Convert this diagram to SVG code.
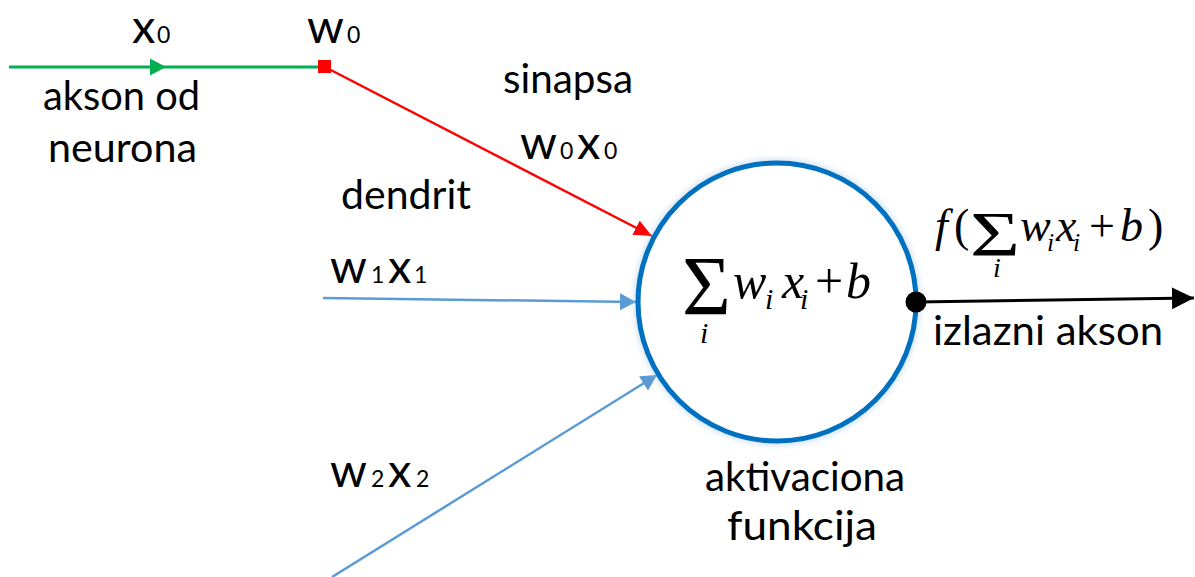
<svg xmlns="http://www.w3.org/2000/svg" width="1195" height="577" viewBox="0 0 1195 577">
  <style>
    .lbl { font-family: Lato, "Liberation Sans", sans-serif; font-size: 41px; fill: #000; }
    .var { font-family: Lato, "Liberation Sans", sans-serif; font-size: 47px; fill: #000; }
    .sub { font-size: 23px; }
    .m { font-family: "Liberation Serif", "Times New Roman", serif; fill: #000; }
    .it { font-style: italic; }
  </style>
  <defs>
    <marker id="ahGreen" markerUnits="userSpaceOnUse" markerWidth="18" markerHeight="18" refX="16" refY="9" orient="auto">
      <path d="M0,0.5 L16,9 L0,17.5 Z" fill="#00B050"/>
    </marker>
    <marker id="ahRed" markerUnits="userSpaceOnUse" markerWidth="20" markerHeight="18" refX="18" refY="9" orient="auto">
      <path d="M0,1 L18,9 L0,17 Z" fill="#FF0000"/>
    </marker>
    <marker id="ahBlue" markerUnits="userSpaceOnUse" markerWidth="18" markerHeight="18" refX="16" refY="9" orient="auto">
      <path d="M0,0.5 L16,9 L0,17.5 Z" fill="#5B9BD5"/>
    </marker>
    <marker id="ahBlack" markerUnits="userSpaceOnUse" markerWidth="24" markerHeight="24" refX="22" refY="12" orient="auto">
      <path d="M0,1 L22,12 L0,23 Z" fill="#000"/>
    </marker>
    <filter id="glow" x="-20%" y="-20%" width="140%" height="140%">
      <feGaussianBlur stdDeviation="3"/>
    </filter>
  </defs>

  <g id="connectors">
    <path d="M9,67 L166,67 L323,67" fill="none" stroke="#00B050" stroke-width="3" marker-mid="url(#ahGreen)"/>
    <path d="M325,67 L652,236" fill="none" stroke="#FF0000" stroke-width="2.5" marker-end="url(#ahRed)"/>
    <path d="M323,298 L636,302" fill="none" stroke="#5B9BD5" stroke-width="2.5" marker-end="url(#ahBlue)"/>
    <path d="M332,577 L657,375" fill="none" stroke="#5B9BD5" stroke-width="2.5" marker-end="url(#ahBlue)"/>
    <path d="M916,302 L1194,298" fill="none" stroke="#000" stroke-width="3" marker-end="url(#ahBlack)"/>
  </g>

  <g id="synapse">
    <rect x="318" y="60" width="13" height="13" fill="#FF0000"/>
  </g>

  <g id="neuron">
    <circle cx="777" cy="302" r="139" fill="none" stroke="#9DC3E6" stroke-width="7" opacity="0.6" filter="url(#glow)"/>
    <circle cx="777" cy="302" r="139" fill="#fff" stroke="#0070C0" stroke-width="5"/>
    <text class="m" x="682" y="315" font-size="84">Σ</text>
    <text class="m it" x="700" y="343" font-size="30">i</text>
    <text class="m it" x="733" y="298" font-size="50">w</text>
    <text class="m it" x="765" y="309" font-size="30">i</text>
    <text class="m it" x="782" y="298" font-size="50">x</text>
    <text class="m it" x="800" y="309" font-size="30">i</text>
    <text class="m" x="815" y="298" font-size="50">+</text>
    <text class="m it" x="846" y="298" font-size="50">b</text>
  </g>

  <g id="output-dot">
    <circle cx="916" cy="302" r="10.5" fill="#000"/>
  </g>

  <g id="output-formula">
    <text class="m it" x="935" y="241" font-size="46">f</text>
    <text class="m" x="954" y="241" font-size="46">(</text>
    <text class="m" x="970" y="256" font-size="64" textLength="50" lengthAdjust="spacingAndGlyphs">Σ</text>
    <text class="m it" x="993" y="277" font-size="28">i</text>
    <text class="m it" x="1020" y="241" font-size="46">w</text>
    <text class="m it" x="1047" y="251" font-size="26">i</text>
    <text class="m it" x="1056" y="241" font-size="46">x</text>
    <text class="m it" x="1073" y="251" font-size="26">i</text>
    <text class="m" x="1089" y="241" font-size="46">+</text>
    <text class="m it" x="1120" y="241" font-size="46">b</text>
    <text class="m" x="1148" y="241" font-size="46">)</text>
  </g>

  <g id="labels">
    <text class="var" y="43"><tspan x="132">x</tspan><tspan class="sub" x="157">0</tspan></text>
    <text class="var" y="43"><tspan x="307">w</tspan><tspan class="sub" x="347">0</tspan></text>
    <text class="lbl" x="43" y="110" textLength="157" lengthAdjust="spacingAndGlyphs">akson od</text>
    <text class="lbl" x="48" y="162" textLength="149" lengthAdjust="spacingAndGlyphs">neurona</text>
    <text class="lbl" x="503" y="93" textLength="130" lengthAdjust="spacingAndGlyphs">sinapsa</text>
    <text class="var" y="159"><tspan x="520">w</tspan><tspan class="sub" x="560">0</tspan><tspan x="577">x</tspan><tspan class="sub" x="604">0</tspan></text>
    <text class="lbl" x="341" y="209" textLength="130" lengthAdjust="spacingAndGlyphs">dendrit</text>
    <text class="var" y="283"><tspan x="330">w</tspan><tspan class="sub" x="371">1</tspan><tspan x="388">x</tspan><tspan class="sub" x="414">1</tspan></text>
    <text class="var" y="487"><tspan x="330">w</tspan><tspan class="sub" x="371">2</tspan><tspan x="388">x</tspan><tspan class="sub" x="416">2</tspan></text>
    <text class="lbl" x="705" y="491" textLength="200" lengthAdjust="spacingAndGlyphs">aktivaciona</text>
    <text class="lbl" x="727" y="540" textLength="150" lengthAdjust="spacingAndGlyphs">funkcija</text>
    <text class="lbl" x="933" y="345" textLength="230" lengthAdjust="spacingAndGlyphs">izlazni akson</text>
  </g>
</svg>
